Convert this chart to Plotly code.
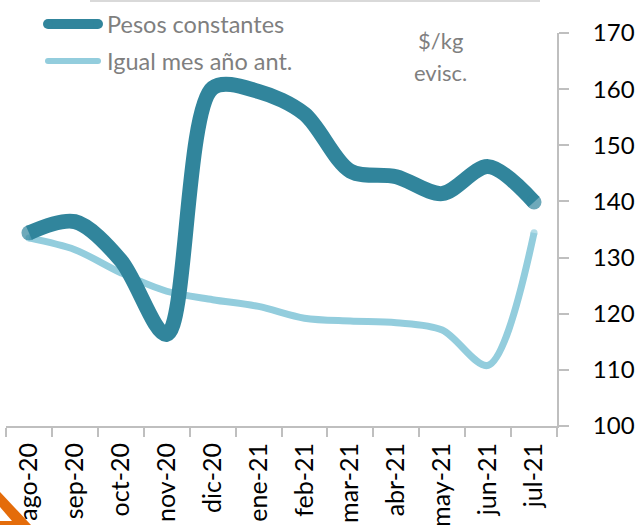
import plotly.graph_objects as go

# Monthly price series ($/kg eviscerado)
months = ["ago-20", "sep-20", "oct-20", "nov-20", "dic-20", "ene-21",
          "feb-21", "mar-21", "abr-21", "may-21", "jun-21", "jul-21"]
pesos_constantes = [134.4, 136.4, 129.5, 116.3, 160.2, 159.6,
                    155.6, 145.4, 144.4, 141.4, 146.2, 139.9]
igual_mes_ano_ant = [133.5, 131.4, 127.3, 124.0, 122.5, 121.3,
                     119.2, 118.7, 118.4, 117.1, 110.8, 134.4]

y_ticks = [100, 110, 120, 130, 140, 150, 160, 170]

W, H = 637, 525
PL, PR, PT, PB = 6, 557, 33, 426

DARK = "#31859C"
LIGHT = "#93CDDD"
AXIS = "#BFBFBF"
GREY_TXT = "#7F7F7F"
FONT = "Lato"


def px(x):
    return (x - PL) / (PR - PL)


def py(y):
    return (PB - y) / (PB - PT)


def end_sizes(n, s):
    return [s] + [0] * (n - 2) + [s]


fig = go.Figure()

fig.add_trace(go.Scatter(
    x=months, y=igual_mes_ano_ant, name="Igual mes año ant.",
    mode="lines+markers",
    line=dict(color=LIGHT, width=7, shape="spline", smoothing=0.9),
    marker=dict(color=LIGHT, size=end_sizes(len(months), 7), line=dict(width=0)),
    hoverinfo="x+y", showlegend=False,
))
fig.add_trace(go.Scatter(
    x=months, y=pesos_constantes, name="Pesos constantes",
    mode="lines+markers",
    line=dict(color=DARK, width=15, shape="spline", smoothing=0.9),
    marker=dict(color=DARK, size=end_sizes(len(months), 15), line=dict(width=0)),
    hoverinfo="x+y", showlegend=False,
))

shapes = []


def pill(x0, x1, yc, w, color):
    r = w / 2
    shapes.append(dict(type="line", xref="paper", yref="paper",
                       x0=px(x0), x1=px(x1), y0=py(yc), y1=py(yc),
                       line=dict(color=color, width=w)))
    for xc in (x0, x1):
        shapes.append(dict(type="circle", xref="paper", yref="paper",
                           x0=px(xc - r), x1=px(xc + r),
                           y0=py(yc + r), y1=py(yc - r),
                           fillcolor=color, line=dict(width=0)))


# legend samples
pill(48, 98, 24, 10, DARK)
pill(48, 98, 61, 6, LIGHT)

# thin rule along the top
shapes.append(dict(type="line", xref="paper", yref="paper",
                   x0=px(90), x1=px(540), y0=py(1), y1=py(1),
                   line=dict(color="#D9D9D9", width=2)))

# orange corner mark
shapes.append(dict(type="path", xref="paper", yref="paper",
                   path=f"M {px(0)} {py(492)} L {px(31)} {py(525)} L {px(0)} {py(525)} Z",
                   fillcolor="#E46C0A", line=dict(width=0)))
shapes.append(dict(type="path", xref="paper", yref="paper",
                   path=f"M {px(0)} {py(507)} L {px(12)} {py(521)} L {px(0)} {py(521)} Z",
                   fillcolor="white", line=dict(width=0)))

annotations = [
    dict(text="Pesos constantes", x=px(105), y=py(24), xref="paper", yref="paper",
         xanchor="left", yanchor="middle", showarrow=False,
         font=dict(family=FONT, size=23.5, color=GREY_TXT)),
    dict(text="Igual mes año ant.", x=px(105), y=py(61), xref="paper", yref="paper",
         xanchor="left", yanchor="middle", showarrow=False,
         font=dict(family=FONT, size=23.5, color=GREY_TXT)),
    dict(text="$/kg", x=px(440), y=py(40), xref="paper", yref="paper",
         xanchor="center", yanchor="middle", showarrow=False,
         font=dict(family=FONT, size=22, color=GREY_TXT)),
    dict(text="evisc.", x=px(440), y=py(72), xref="paper", yref="paper",
         xanchor="center", yanchor="middle", showarrow=False,
         font=dict(family=FONT, size=22, color=GREY_TXT)),
]

fig.update_layout(
    width=W, height=H,
    margin=dict(l=PL, r=W - PR, t=PT, b=H - PB, pad=0),
    paper_bgcolor="white", plot_bgcolor="white",
    font=dict(family=FONT, color="black"),
    shapes=shapes, annotations=annotations,
    xaxis=dict(
        type="category", categoryorder="array", categoryarray=months,
        range=[-0.5, len(months) - 0.5],
        tickson="boundaries", ticks="outside", ticklen=9, tickwidth=2,
        tickcolor=AXIS, showline=True, linecolor=AXIS, linewidth=2,
        showgrid=False, zeroline=False, tickangle=-90,
        tickfont=dict(family=FONT, size=25, color="black"),
        ticklabelstandoff=5, automargin=False,
    ),
    yaxis=dict(
        side="right", range=[100, 170], tickvals=y_ticks,
        ticks="outside", ticklen=10, tickwidth=2, tickcolor=AXIS,
        showline=True, linecolor=AXIS, linewidth=2,
        showgrid=False, zeroline=False,
        tickfont=dict(family=FONT, size=24, color="black"),
        ticklabelstandoff=19, automargin=False,
    ),
)

fig.write_html("out.html")
